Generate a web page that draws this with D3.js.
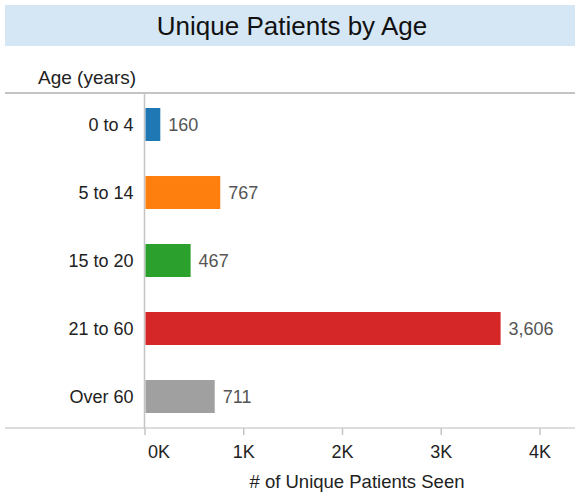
<!DOCTYPE html>
<html><head><meta charset="utf-8">
<script src="https://cdn.jsdelivr.net/npm/d3@7"></script>
<style>body{margin:0;background:#fff;}svg{display:block;font-family:"Liberation Sans",Arial,sans-serif;}</style>
</head><body>
<script>
const categories = ["0 to 4", "5 to 14", "15 to 20", "21 to 60", "Over 60"];
const values = [160, 767, 467, 3606, 711];
const colors = ["#1f77b4", "#ff7f0e", "#2ca02c", "#d62728", "#a0a0a0"];
const xTicks = [0, 1000, 2000, 3000, 4000];
const title = "Unique Patients by Age";
const yTitle = "Age (years)";
const xTitle = "# of Unique Patients Seen";

(function () {
const W = 575, H = 497;
const FF = "Liberation Sans, Arial, sans-serif";
const svg = d3.select("body").append("svg").attr("width", W).attr("height", H);

// title band
svg.append("rect").attr("x", 5).attr("y", 5).attr("width", W - 5).attr("height", 41).attr("fill", "#d5e7f5");
svg.append("text").attr("x", 292).attr("y", 35).attr("text-anchor", "middle")
  .attr("font-size", 26).attr("fill", "#111").text(title);

svg.append("text").attr("x", 38).attr("y", 84).attr("font-size", 19).attr("fill", "#222").text(yTitle);

const plotTop = 93, plotBottom = 428, x0 = 144.5;
const x = d3.scaleLinear().domain([0, 4000]).range([x0, x0 + 395]);
const y = d3.scaleBand().domain(categories).range([90.5, 430.5]).paddingInner(0.515).paddingOuter(0.2575);

// frame lines
svg.append("line").attr("x1", 5).attr("x2", W).attr("y1", plotTop).attr("y2", plotTop).attr("stroke", "#c4c4c4").attr("stroke-width", 2);
svg.append("line").attr("x1", 5).attr("x2", W).attr("y1", plotBottom).attr("y2", plotBottom).attr("stroke", "#d2d2d2").attr("stroke-width", 1.5);
svg.append("line").attr("x1", x0).attr("x2", x0).attr("y1", plotTop).attr("y2", plotBottom).attr("stroke", "#c4c4c4").attr("stroke-width", 1.5);

// bars
svg.selectAll("rect.bar").data(values).enter().append("rect").attr("class", "bar")
  .attr("x", x(0) + 1).attr("y", (d, i) => y(categories[i]))
  .attr("width", d => x(d) - x(0) - 1).attr("height", y.bandwidth())
  .attr("fill", (d, i) => colors[i]);

// value labels
svg.selectAll("text.val").data(values).enter().append("text").attr("class", "val")
  .attr("x", d => x(d) + 8).attr("y", (d, i) => y(categories[i]) + y.bandwidth() / 2 + 6.5)
  .attr("font-size", 18).attr("fill", "#555").text(d => d3.format(",")(d));

// y axis labels
const yAxis = d3.axisLeft(y).tickSize(0).tickPadding(11);
const yg = svg.append("g").attr("transform", `translate(${x0},0)`).call(yAxis);
yg.select(".domain").remove();
yg.selectAll("text").attr("font-size", 18).attr("fill", "#222").attr("font-family", FF).attr("dy", "0.36em");

// x axis
const xAxis = d3.axisBottom(x).tickValues(xTicks).tickFormat(d => (d / 1000) + "K").tickSize(7).tickPadding(0);
const xg = svg.append("g").attr("transform", `translate(0,${plotBottom})`).call(xAxis);
xg.select(".domain").remove();
xg.selectAll("line").attr("stroke", "#c4c4c4").attr("stroke-width", 1.5);
xg.selectAll("text").attr("font-size", 18).attr("fill", "#222").attr("font-family", FF)
  .attr("y", 30).attr("dy", 0).attr("dx", d => d === 0 ? 14 : 0);

svg.append("text").attr("x", 357).attr("y", 488).attr("text-anchor", "middle")
  .attr("font-size", 18.5).attr("fill", "#222").text(xTitle);
})();
</script>
</body></html>
